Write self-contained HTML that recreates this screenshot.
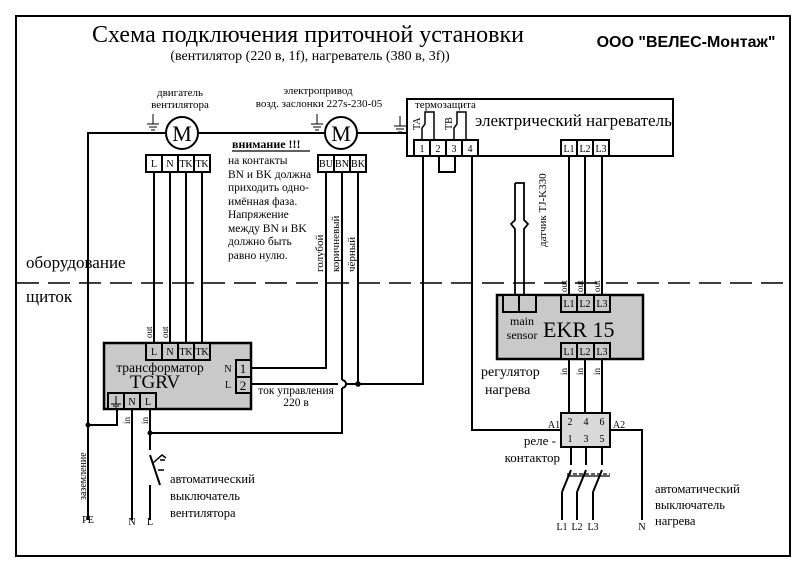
<!DOCTYPE html>
<html><head><meta charset="utf-8"><style>
html,body{margin:0;padding:0;background:#fff;}
svg{display:block;}
text{font-family:"Liberation Serif","DejaVu Serif",serif;fill:#000;}
</style></head><body>
<svg width="800" height="563" viewBox="0 0 800 563" xmlns="http://www.w3.org/2000/svg">
<rect x="16" y="16" width="774" height="540" fill="none" stroke="#000" stroke-width="2"/>
<text x="308" y="42" font-size="24" text-anchor="middle">Схема подключения приточной установки</text>
<text x="310" y="60" font-size="14" text-anchor="middle">(вентилятор (220 в, 1f), нагреватель (380 в, 3f))</text>
<text x="686" y="47" font-size="16" font-weight="bold" text-anchor="middle" style="font-family:'Liberation Sans',sans-serif">ООО "ВЕЛЕС-Монтаж"</text>

<line x1="17" y1="283" x2="789" y2="283" stroke="#000" stroke-width="1.5" stroke-dasharray="22,9"/>
<text x="26" y="268" font-size="17">оборудование</text>
<text x="26" y="302" font-size="17">щиток</text>

<g stroke="#000" stroke-width="2" fill="none">
<polyline points="88,520 88,133 166,133"/>
<line x1="198" y1="133" x2="325" y2="133"/>
<line x1="357" y1="133" x2="407" y2="133"/>
<circle cx="182" cy="133" r="16"/>
<circle cx="341" cy="133" r="16"/>
<rect x="407" y="99" width="266" height="57"/>
<line x1="154" y1="172" x2="154" y2="343"/>
<line x1="170" y1="172" x2="170" y2="343"/>
<line x1="186" y1="172" x2="186" y2="343"/>
<line x1="202" y1="172" x2="202" y2="343"/>
<polyline points="326,172 326,368 251,368"/>
<polyline points="342,172 342,380"/>
<path d="M342,388 L342,433 L150,433"/>
<path d="M342,380 A4,4 0 0 1 342,388"/>
<line x1="358" y1="172" x2="358" y2="384"/>
<polyline points="251,384 338,384"/>
<polyline points="346,384 423,384 423,156"/>
<polyline points="472,156 472,430 561,430"/>
<polyline points="439,156 439,172 455,172 455,156"/>
<line x1="569" y1="156" x2="569" y2="295"/>
<line x1="585" y1="156" x2="585" y2="295"/>
<line x1="602" y1="156" x2="602" y2="295"/>
<line x1="569" y1="359" x2="569" y2="413"/>
<line x1="585" y1="359" x2="585" y2="413"/>
<line x1="602" y1="359" x2="602" y2="413"/>
<polyline points="610,430 642,430 642,520"/>
<line x1="571" y1="447" x2="571" y2="465"/>
<line x1="586" y1="447" x2="586" y2="465"/>
<line x1="602" y1="447" x2="602" y2="465"/>
<line x1="571" y1="470" x2="562" y2="492"/><line x1="562" y1="492" x2="562" y2="520"/>
<line x1="586" y1="470" x2="577" y2="492"/><line x1="577" y1="492" x2="577" y2="520"/>
<line x1="602" y1="470" x2="593" y2="492"/><line x1="593" y1="492" x2="593" y2="520"/>
<line x1="567" y1="474" x2="610" y2="474" stroke-width="1.2" stroke-dasharray="4,2"/>
<line x1="567" y1="476" x2="610" y2="476" stroke-width="1.2"/>
<path d="M515,183 L524,183 L524,220 L528,224 L524,229 L524,295 M515,183 L515,220 L511,224 L515,229 L515,295" stroke-width="1.8"/>
<line x1="132" y1="408" x2="132" y2="520"/>
<polyline points="150,408 150,450"/>
<line x1="150" y1="455" x2="160" y2="485"/>
<line x1="150" y1="485" x2="150" y2="520"/>
<path d="M153,463 L162,455 L166,458 M158,470 L164,470 M160,460 L165,460" stroke-width="1.5"/>
<polyline points="88,425 117,425 117,408"/>
</g>
<g fill="#000">
<circle cx="88" cy="425" r="2.5"/><circle cx="150" cy="433" r="2.5"/><circle cx="358" cy="384" r="2.8"/>
</g>
<g stroke="#000" stroke-width="1" fill="none">
<path d="M153,114 V124 M147,124 H159 M149,127 H157 M151,130 H155"/>
<path d="M317,114 V124 M311,124 H323 M313,127 H321 M315,130 H319"/>
<path d="M400,116 V126 M394,126 H406 M396,129 H404 M398,132 H402"/>
</g>
<text x="182" y="141" font-size="22" text-anchor="middle">M</text>
<text x="341" y="141" font-size="22" text-anchor="middle">M</text>

<g stroke="#000" stroke-width="2" fill="#fff">
<rect x="146" y="155" width="16" height="17"/><rect x="162" y="155" width="16" height="17"/><rect x="178" y="155" width="16" height="17"/><rect x="194" y="155" width="16" height="17"/>
<rect x="318" y="155" width="16" height="17"/><rect x="334" y="155" width="16" height="17"/><rect x="350" y="155" width="16" height="17"/>
<rect x="414" y="140" width="16" height="16"/><rect x="430" y="140" width="16" height="16"/><rect x="446" y="140" width="16" height="16"/><rect x="462" y="140" width="16" height="16"/>
<rect x="561" y="140" width="16" height="16"/><rect x="577" y="140" width="16" height="16"/><rect x="593" y="140" width="16" height="16"/>
</g>
<g font-size="10" text-anchor="middle">
<text x="154" y="167">L</text><text x="170" y="167">N</text><text x="186" y="167">TK</text><text x="202" y="167">TK</text>
<text x="326" y="167">BU</text><text x="342" y="167">BN</text><text x="358" y="167">BK</text>
<text x="422" y="152">1</text><text x="438" y="152">2</text><text x="454" y="152">3</text><text x="470" y="152">4</text>
<text x="569" y="152">L1</text><text x="585" y="152">L2</text><text x="601" y="152">L3</text>
</g>
<g stroke="#000" stroke-width="1.5" fill="none">
<path d="M422,140 V128 L425,124 M425,124 V112 H434 V140"/>
<path d="M454,140 V128 L457,124 M457,124 V112 H466 V140"/>
</g>
<text font-size="10" transform="translate(420,130) rotate(-90)">TA</text>
<text font-size="10" transform="translate(452,130) rotate(-90)">TB</text>
<text x="415" y="108" font-size="11">термозащита</text>
<text x="475" y="126" font-size="17">электрический нагреватель</text>

<text x="180" y="96" font-size="11" text-anchor="middle">двигатель</text>
<text x="180" y="108" font-size="11" text-anchor="middle">вентилятора</text>
<text x="318" y="94" font-size="11" text-anchor="middle">электропривод</text>
<text x="319" y="107" font-size="11" text-anchor="middle">возд. заслонки 227s-230-05</text>
<text x="232" y="148" font-size="12" font-weight="bold">внимание !!!</text>
<line x1="232" y1="151" x2="310" y2="151" stroke="#000" stroke-width="1.2"/>
<g font-size="11.5">
<text x="228" y="164">на контакты</text>
<text x="228" y="178">BN и BK должна</text>
<text x="228" y="191">приходить одно-</text>
<text x="228" y="205">имённая фаза.</text>
<text x="228" y="218">Напряжение</text>
<text x="228" y="232">между BN и BK</text>
<text x="228" y="245">должно быть</text>
<text x="228" y="259">равно нулю.</text>
</g>
<g font-size="11">
<text transform="translate(323,272) rotate(-90)">голубой</text>
<text transform="translate(339,272) rotate(-90)">коричневый</text>
<text transform="translate(355,272) rotate(-90)">чёрный</text>
<text transform="translate(546,247) rotate(-90)">датчик TJ-K330</text>
<text transform="translate(86,500) rotate(-90)" font-size="10">заземление</text>
</g>
<g font-size="9">
<text transform="translate(152,338) rotate(-90)">out</text>
<text transform="translate(168,338) rotate(-90)">out</text>
<text transform="translate(567,292) rotate(-90)">out</text>
<text transform="translate(583,292) rotate(-90)">out</text>
<text transform="translate(600,292) rotate(-90)">out</text>
<text transform="translate(130,424) rotate(-90)">in</text>
<text transform="translate(148,424) rotate(-90)">in</text>
<text transform="translate(567,375) rotate(-90)">in</text>
<text transform="translate(583,375) rotate(-90)">in</text>
<text transform="translate(600,375) rotate(-90)">in</text>
</g>

<rect x="104" y="343" width="147" height="66" fill="#c9c9c9" stroke="#000" stroke-width="2.5"/>
<g stroke="#000" stroke-width="2" fill="#c9c9c9">
<rect x="146" y="343" width="16" height="17"/><rect x="162" y="343" width="16" height="17"/><rect x="178" y="343" width="16" height="17"/><rect x="194" y="343" width="16" height="17"/>
<rect x="236" y="360" width="15" height="17"/><rect x="236" y="377" width="15" height="16"/>
<rect x="108" y="393" width="16" height="16"/><rect x="124" y="393" width="16" height="16"/><rect x="140" y="393" width="16" height="16"/>
</g>
<g font-size="10" text-anchor="middle">
<text x="154" y="355">L</text><text x="170" y="355">N</text><text x="186" y="355">TK</text><text x="202" y="355">TK</text>
<text x="132" y="405">N</text><text x="148" y="405">L</text>
<text x="228" y="372">N</text><text x="228" y="388">L</text>
</g>
<g stroke="#000" stroke-width="1" fill="none"><path d="M116,396 V404 M111,404 H121 M113,406 H119 M115,408 H117"/></g>
<text x="243" y="373" font-size="13" text-anchor="middle">1</text>
<text x="243" y="390" font-size="13" text-anchor="middle">2</text>
<text x="160" y="372" font-size="13.5" text-anchor="middle">трансформатор</text>
<text x="155" y="388" font-size="19" text-anchor="middle">TGRV</text>
<text x="296" y="394" font-size="11.5" text-anchor="middle">ток управления</text>
<text x="296" y="406" font-size="11.5" text-anchor="middle">220 в</text>

<rect x="497" y="295" width="146" height="64" fill="#c9c9c9" stroke="#000" stroke-width="2.5"/>
<g stroke="#000" stroke-width="2" fill="#c9c9c9">
<rect x="503" y="295" width="16" height="17"/><rect x="519" y="295" width="17" height="17"/>
<rect x="561" y="295" width="16" height="17"/><rect x="577" y="295" width="17" height="17"/><rect x="594" y="295" width="16" height="17"/>
<rect x="561" y="343" width="16" height="16"/><rect x="577" y="343" width="17" height="16"/><rect x="594" y="343" width="16" height="16"/>
</g>
<g font-size="10" text-anchor="middle">
<text x="569" y="307">L1</text><text x="585" y="307">L2</text><text x="602" y="307">L3</text>
<text x="569" y="355">L1</text><text x="585" y="355">L2</text><text x="602" y="355">L3</text>
</g>
<text x="522" y="325" font-size="12" text-anchor="middle">main</text>
<text x="522" y="339" font-size="12" text-anchor="middle">sensor</text>
<text x="543" y="337" font-size="22">EKR 15</text>
<text x="481" y="376" font-size="14">регулятор</text>
<text x="485" y="394" font-size="14">нагрева</text>

<rect x="561" y="413" width="49" height="34" fill="#d9d9d9" stroke="#000" stroke-width="2"/>
<g font-size="10" text-anchor="middle">
<text x="570" y="425">2</text><text x="586" y="425">4</text><text x="602" y="425">6</text>
<text x="570" y="442">1</text><text x="586" y="442">3</text><text x="602" y="442">5</text>
<text x="554" y="428">A1</text><text x="619" y="428">A2</text>
<text x="562" y="530">L1</text><text x="577" y="530">L2</text><text x="593" y="530">L3</text>
<text x="642" y="530">N</text>
<text x="88" y="523">PE</text><text x="132" y="525">N</text><text x="150" y="525">L</text>
</g>
<text x="556" y="445" font-size="13" text-anchor="end">реле -</text>
<text x="560" y="462" font-size="13" text-anchor="end">контактор</text>
<g font-size="12.5">
<text x="655" y="493">автоматический</text>
<text x="655" y="509">выключатель</text>
<text x="655" y="525">нагрева</text>
<text x="170" y="483">автоматический</text>
<text x="170" y="500">выключатель</text>
<text x="170" y="517">вентилятора</text>
</g>
</svg>
</body></html>
